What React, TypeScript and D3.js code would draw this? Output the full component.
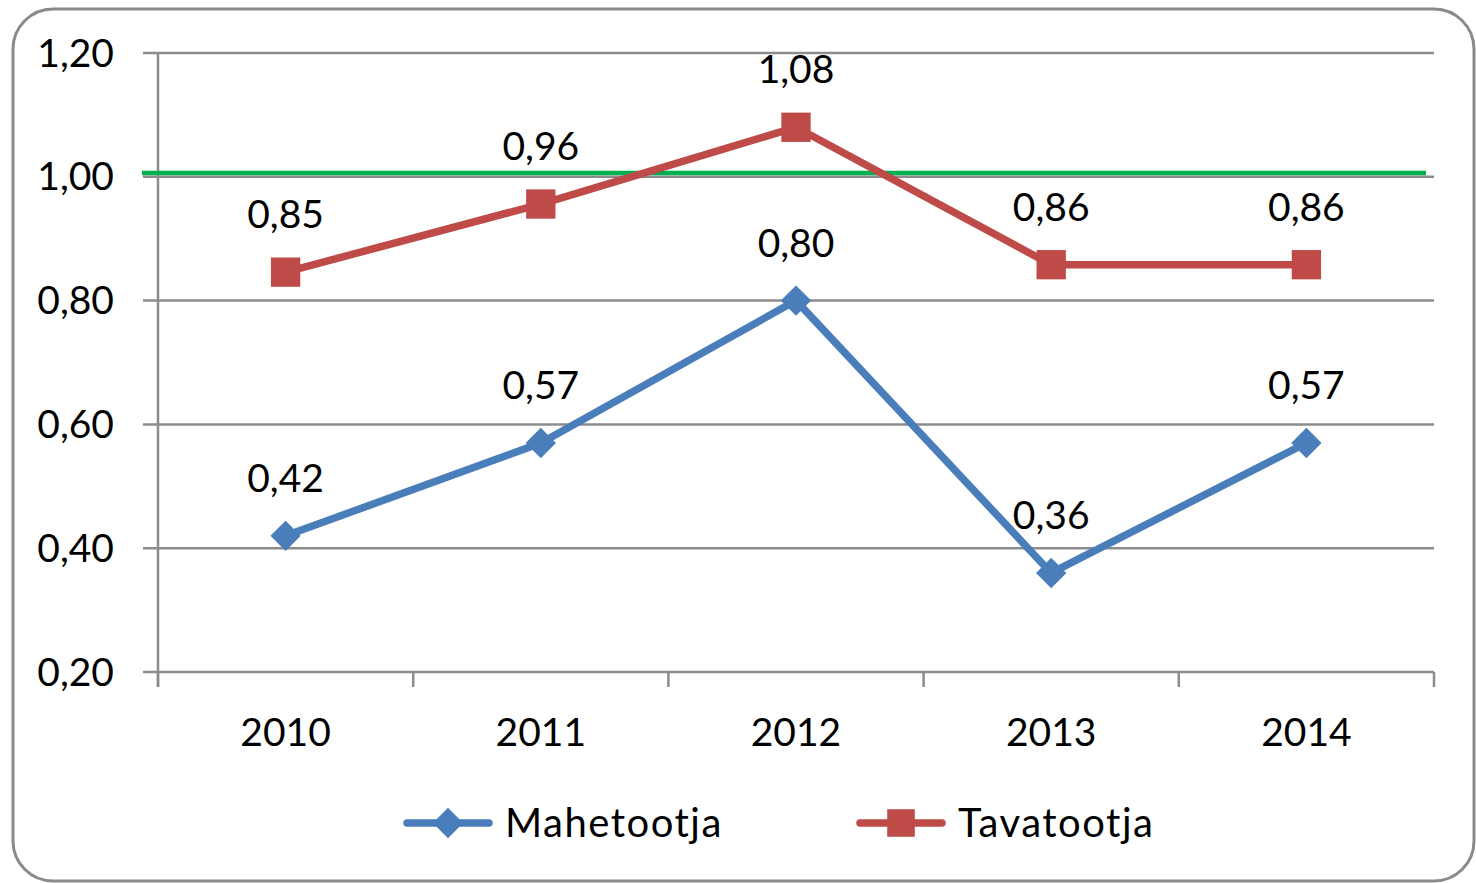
import { useEffect, useRef } from 'react'
import * as d3 from 'd3'

const years = ['2010', '2011', '2012', '2013', '2014']
const mahetootja = [0.42, 0.57, 0.8, 0.36, 0.57]
const tavatootja = [0.846, 0.956, 1.08, 0.858, 0.858]
const yTicks = [0.2, 0.4, 0.6, 0.8, 1.0, 1.2]
const referenceLevel = 1.006

const seriesNames = ['Mahetootja', 'Tavatootja']
const BLUE = '#4A7EBB'
const RED = '#BE4B48'
const GRID = '#8c8c8c'
const FONT = 'Lato, "Open Sans", sans-serif'
const FS = 39

const fmt = (v: number) => d3.format('.2f')(Math.round(v * 100) / 100).replace('.', ',')

export default function App() {
  const ref = useRef<SVGSVGElement | null>(null)

  useEffect(() => {
    if (!ref.current) return
    document.body.style.margin = '0'
    const svg = d3.select(ref.current)
    svg.selectAll('*').remove()

    const left = 158
    const right = 1434
    const top = 53
    const bottom = 672

    // outer rounded frame
    svg.append('rect')
      .attr('x', 13).attr('y', 9)
      .attr('width', 1461).attr('height', 872)
      .attr('rx', 40).attr('ry', 40)
      .attr('fill', '#fff')
      .attr('stroke', '#8a8a8a')
      .attr('stroke-width', 3)

    const x = d3.scaleBand<string>().domain(years).range([left, right])
    const y = d3.scaleLinear().domain([0.2, 1.2]).range([bottom, top])
    const cx = (d: string) => (x(d) ?? 0) + x.bandwidth() / 2

    // horizontal gridlines + y ticks
    svg.append('g')
      .selectAll('line')
      .data(yTicks)
      .join('line')
      .attr('x1', left - 15).attr('x2', right)
      .attr('y1', d => y(d)).attr('y2', d => y(d))
      .attr('stroke', GRID).attr('stroke-width', 2.5)

    // y axis line
    svg.append('line')
      .attr('x1', left).attr('x2', left)
      .attr('y1', top).attr('y2', bottom + 15)
      .attr('stroke', GRID).attr('stroke-width', 2.5)

    // x tick marks at band edges
    const edges = years.map(d => x(d) ?? 0).concat([right])
    svg.append('g')
      .selectAll('line')
      .data(edges)
      .join('line')
      .attr('x1', d => d).attr('x2', d => d)
      .attr('y1', bottom).attr('y2', bottom + 15)
      .attr('stroke', GRID).attr('stroke-width', 2.5)

    // y tick labels
    svg.append('g')
      .selectAll('text')
      .data(yTicks)
      .join('text')
      .attr('x', 114)
      .attr('y', d => y(d))
      .attr('dy', '0.35em')
      .attr('text-anchor', 'end')
      .attr('font-family', FONT)
      .attr('font-size', FS)
      .attr('fill', '#000')
      .text(d => fmt(d))

    // x labels
    svg.append('g')
      .selectAll('text')
      .data(years)
      .join('text')
      .attr('x', d => cx(d))
      .attr('y', 746)
      .attr('text-anchor', 'middle')
      .attr('font-family', FONT)
      .attr('font-size', FS)
      .attr('fill', '#000')
      .text(d => d)

    // green reference line
    svg.append('line')
      .attr('x1', left - 16).attr('x2', right - 8)
      .attr('y1', y(referenceLevel)).attr('y2', y(referenceLevel))
      .attr('stroke', '#00B050').attr('stroke-width', 4.5)

    const line = d3.line<number>()
      .x((_, i) => cx(years[i]))
      .y(d => y(d))

    const drawSeries = (values: number[], color: string, marker: 'diamond' | 'square') => {
      const g = svg.append('g')
      g.append('path')
        .datum(values)
        .attr('d', line)
        .attr('fill', 'none')
        .attr('stroke', color)
        .attr('stroke-width', 7.5)
        .attr('stroke-linejoin', 'round')
      const sym = d3.symbol()
        .type(d3.symbolSquare)
        .size(marker === 'diamond' ? 460 : 860)
      g.selectAll('path.m')
        .data(values)
        .join('path')
        .attr('class', 'm')
        .attr('d', sym)
        .attr('transform', (d, i) => `translate(${cx(years[i])},${y(d)}) rotate(${marker === 'diamond' ? 45 : 0})`)
        .attr('fill', color)
      g.selectAll('text')
        .data(values)
        .join('text')
        .attr('x', (_, i) => cx(years[i]))
        .attr('y', d => y(d) - 44)
        .attr('text-anchor', 'middle')
        .attr('font-family', FONT)
        .attr('font-size', FS)
        .attr('fill', '#000')
        .text(d => fmt(d))
    }

    drawSeries(mahetootja, BLUE, 'diamond')
    drawSeries(tavatootja, RED, 'square')

    // legend
    const legendItems = [
      { name: seriesNames[0], color: BLUE, x0: 407, marker: 'diamond' },
      { name: seriesNames[1], color: RED, x0: 860, marker: 'square' },
    ]
    const ly = 823
    legendItems.forEach(it => {
      const g = svg.append('g')
      g.append('line')
        .attr('x1', it.x0).attr('x2', it.x0 + 82)
        .attr('y1', ly).attr('y2', ly)
        .attr('stroke', it.color).attr('stroke-width', 7.5)
        .attr('stroke-linecap', 'round')
      g.append('path')
        .attr('d', d3.symbol().type(d3.symbolSquare).size(it.marker === 'diamond' ? 460 : 760)())
        .attr('transform', `translate(${it.x0 + 41},${ly}) rotate(${it.marker === 'diamond' ? 45 : 0})`)
        .attr('fill', it.color)
      g.append('text')
        .attr('x', it.x0 + 98)
        .attr('y', ly)
        .attr('dy', '0.36em')
        .attr('font-family', FONT)
        .attr('font-size', 40)
        .attr('letter-spacing', 1.5)
        .attr('fill', '#000')
        .text(it.name)
    })
  }, [])

  return <svg ref={ref} width={1476} height={883} style={{ display: 'block' }} />
}
